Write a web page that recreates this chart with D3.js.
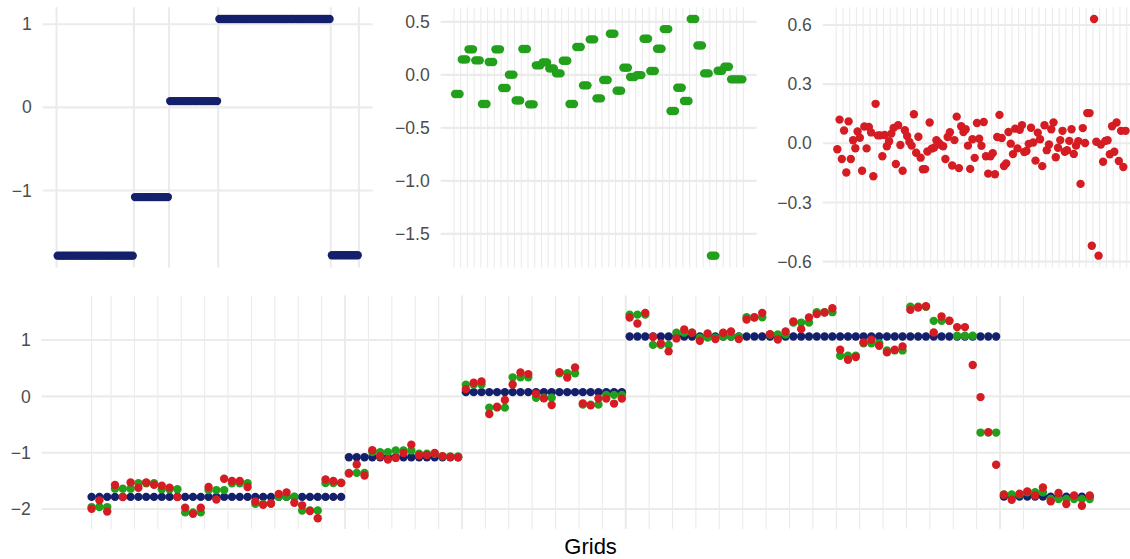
<!DOCTYPE html>
<html>
<head>
<meta charset="utf-8">
<script src="https://cdn.jsdelivr.net/npm/d3@7/dist/d3.min.js"></script>
<style>
  body { margin: 0; background: #fff; }
  svg { display: block; font-family: "Liberation Sans", Arial, sans-serif; }
</style>
</head>
<body>
<div id="chart"></div>
<script>
// grid level (navy): value per grid and how many points each grid has
const gridLevel = [-1.785, -1.08, 0.075, 1.063, -1.78];
const gridSize = [33, 15, 21, 48, 12];

// cell effect (green): one value per block of 3 points
const cellEffect = [
  -0.181, 0.146, 0.241, 0.137, -0.275, 0.121, 0.241, -0.124, 0.002, -0.241,
  0.244, -0.278, 0.090, 0.118, 0.061, 0.014, 0.134, -0.275, 0.263, -0.099,
  0.335, -0.222, -0.049, 0.388, -0.149, 0.068, -0.020, -0.002, 0.341, 0.036,
  0.247, 0.432, -0.341, -0.121, -0.247, 0.527, 0.278, 0.014, -1.706, 0.039,
  0.077, -0.042, -0.042
];

// point effect (red): one value per point
const pointEffect = [
  -0.030, 0.120, -0.080, 0.065, -0.148, 0.111, -0.080, 0.015, -0.025, 0.060,
  0.028, -0.139, 0.085, -0.026, 0.083, 0.055, -0.167, 0.200, 0.040, 0.040,
  -0.066, 0.042, -0.015, 0.010, 0.049, 0.078, -0.105, 0.091, -0.009, -0.139,
  0.066, 0.037, 0.007, -0.012, 0.147, -0.048, 0.033, -0.073, -0.132, -0.131,
  -0.042, 0.105, -0.027, -0.022, 0.015, 0.003, -0.009, -0.015, -0.080, 0.032,
  0.056, -0.113, 0.016, 0.135, -0.126, 0.086, 0.057, 0.071, -0.012, -0.130,
  0.020, -0.074, 0.103, 0.023, -0.013, 0.108, -0.066, -0.154, -0.066, -0.050,
  -0.157, 0.032, 0.144, 0.027, -0.115, -0.102, 0.057, -0.002, -0.055, 0.074,
  -0.026, 0.068, 0.092, -0.044, -0.039, -0.003, 0.079, 0.004, -0.088, 0.054,
  0.020, -0.116, 0.091, -0.035, -0.006, 0.071, 0.106, -0.071, -0.023, 0.016,
  0.063, -0.043, -0.035, 0.012, 0.071, -0.054, -0.012, 0.011, -0.206, 0.077,
  0.001, 0.153, 0.153, -0.520, 0.630, 0.008, -0.570, -0.006, -0.094, 0.012,
  0.015, -0.056, 0.086, -0.043, 0.105, -0.090, 0.063, -0.120, 0.063
];

// y tick values per panel
const ticksGrid = [-1, 0, 1];
const ticksCell = [-1.5, -1.0, -0.5, 0.0, 0.5];
const ticksPoint = [-0.6, -0.3, 0.0, 0.3, 0.6];
const ticksAll = [-2, -1, 0, 1];

const colors = { grid: "#14206b", cell: "#22a01b", point: "#d41c22" };
const gridCol = "#ebebeb";
const R = 4.2;

// ---- build per point rows
const rows = [];
gridSize.forEach((n, g) => {
  for (let k = 0; k < n; k++) {
    const i = rows.length;
    const lev = gridLevel[g];
    const cell = cellEffect[Math.floor(i / 3)];
    const pt = pointEffect[i];
    rows.push({ i, g, lev, cell, pt, sum2: lev + cell, sum3: lev + cell + pt });
  }
});
const N = rows.length;

// breaks on the x index axis
const segBounds = [-0.5];
gridSize.reduce((acc, n) => { segBounds.push(acc + n - 0.5); return acc + n; }, 0);
const blockBounds = d3.range(0, N / 3 + 1).map(k => k * 3 - 0.5);
const allMinor = [0].concat(d3.range(0, 40).map(k => k * 3 + 2.5));

const svg = d3.select("#chart").append("svg")
  .attr("width", 1130).attr("height", 559);

const expand = (ext) => {
  const d = (ext[1] - ext[0]) * 0.05;
  return [ext[0] - d, ext[1] + d];
};

const drawPanel = (opt) => {
  const { x0, x1, y0, y1 } = opt;
  const x = d3.scaleLinear().domain(expand([0, N - 1])).range([x0, x1]);
  const y = d3.scaleLinear().domain(expand(opt.yExtent)).range([y1, y0]);
  const g = svg.append("g");

  // minor x grid
  g.append("g").selectAll("line").data(opt.minorX || []).join("line")
    .attr("x1", d => x(d)).attr("x2", d => x(d))
    .attr("y1", y0).attr("y2", y1)
    .attr("stroke", gridCol).attr("stroke-width", 1.1);

  // major y grid
  g.append("g").selectAll("line").data(opt.yTicks).join("line")
    .attr("x1", x0).attr("x2", x1)
    .attr("y1", d => y(d)).attr("y2", d => y(d))
    .attr("stroke", gridCol).attr("stroke-width", 2.1);

  // major x grid
  g.append("g").selectAll("line").data(opt.majorX || []).join("line")
    .attr("x1", d => x(d)).attr("x2", d => x(d))
    .attr("y1", y0).attr("y2", y1)
    .attr("stroke", gridCol).attr("stroke-width", 2.1);

  // y axis labels
  const ax = d3.axisLeft(y).tickValues(opt.yTicks).tickSize(0).tickPadding(0)
    .tickFormat(d3.format(opt.fmt));
  const axG = g.append("g").attr("transform", `translate(${x0 - 11},0)`).call(ax);
  axG.select(".domain").remove();
  axG.selectAll("text")
    .attr("fill", "#4d4d4d")
    .style("font-size", "17.6px")
    .style("font-family", "'Liberation Sans', Arial, sans-serif");

  // points
  opt.series.forEach(s => {
    g.append("g").selectAll("circle").data(rows).join("circle")
      .attr("cx", d => x(d.i))
      .attr("cy", d => y(d[s.key]))
      .attr("r", R)
      .attr("fill", s.color);
  });
  return { x, y };
};

const top0 = 7.2, top1 = 267.5;

drawPanel({
  x0: 42.7, x1: 372.7, y0: top0, y1: top1,
  yExtent: d3.extent(rows, d => d.lev), yTicks: ticksGrid, fmt: "d",
  majorX: segBounds,
  series: [{ key: "lev", color: colors.grid }]
});

drawPanel({
  x0: 440.7, x1: 756.7, y0: top0, y1: top1,
  yExtent: d3.extent(rows, d => d.cell), yTicks: ticksCell, fmt: ".1f",
  minorX: blockBounds,
  series: [{ key: "cell", color: colors.cell }]
});

drawPanel({
  x0: 822.9, x1: 1140, y0: top0, y1: top1,
  yExtent: d3.extent(rows, d => d.pt), yTicks: ticksPoint, fmt: ".1f",
  minorX: blockBounds,
  series: [{ key: "pt", color: colors.point }]
});

const bottomExt = d3.extent(rows.flatMap(d => [d.lev, d.sum2, d.sum3]));
drawPanel({
  x0: 41.7, x1: 1139.6, y0: 295.6, y1: 528.9,
  yExtent: bottomExt, yTicks: ticksAll, fmt: "d",
  minorX: allMinor,
  majorX: segBounds.slice(1, 5),
  series: [
    { key: "lev", color: colors.grid },
    { key: "sum2", color: colors.cell },
    { key: "sum3", color: colors.point }
  ]
});

svg.append("text")
  .attr("x", 590.6).attr("y", 554.3)
  .attr("text-anchor", "middle")
  .attr("fill", "#000")
  .style("font-size", "22px")
  .text("Grids");
</script>
</body>
</html>
